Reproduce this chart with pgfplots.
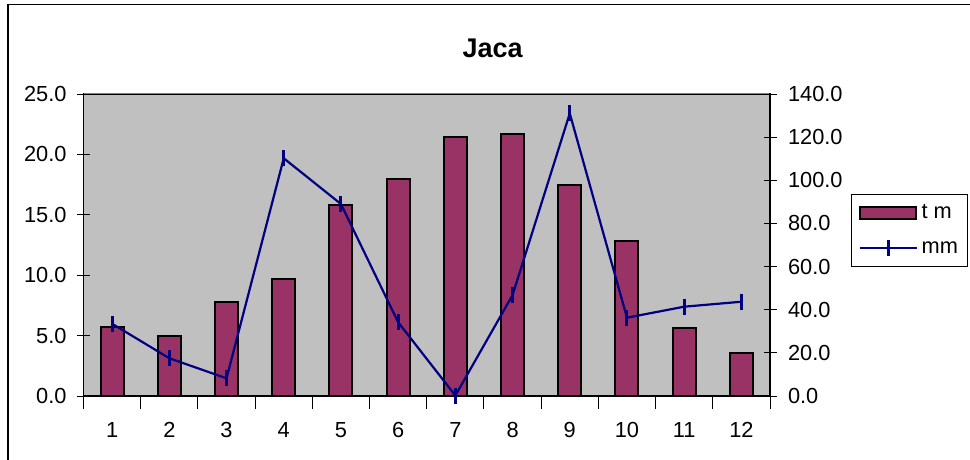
\documentclass[border=0pt]{standalone}
\usepackage{pgfplots}
\pgfplotsset{compat=1.18}
\usepackage{fontspec}
\setmainfont{Liberation Sans}
\definecolor{barc}{HTML}{993366}
\definecolor{navyc}{HTML}{000080}
\definecolor{bgc}{HTML}{C0C0C0}
\pgfplotstableread{
x tm
1 5.7
2 4.95
3 7.8
4 9.7
5 15.8
6 18.0
7 21.4
8 21.7
9 17.45
10 12.85
11 5.6
12 3.6
}\tmdata
\pgfplotstableread{
x mm
1 33.5
2 17.5
3 8.2
4 110.2
5 89.0
6 34.2
7 0.2
8 46.8
9 131.0
10 36.3
11 41.4
12 43.7
}\mmdata
\begin{document}
\begin{tikzpicture}
\useasboundingbox (0pt,0pt) rectangle (970pt,459pt);
\draw[line width=1.2pt] (8pt,-2pt) -- (8pt,454.5pt) -- (972pt,454.5pt);
\node[font=\fontsize{27}{32}\selectfont\bfseries, anchor=base, inner sep=0pt] at (492.7pt,401.3pt) {Jaca};
\pgfplotsset{every axis/.append style={
  scale only axis, width=686.5pt, height=302pt, xmin=0.5, xmax=12.5,
  tick align=center, major tick length=13pt,
  tick style={black, line width=1pt},
  ticklabel style={font=\fontsize{21.8}{26}\selectfont},
  /pgf/number format/assume math mode=true,
  axis line style={line width=1.2pt, black}
}}
\begin{axis}[at={(83.5pt,63pt)}, anchor=south west,
  axis background/.style={fill=bgc},
  ymin=0, ymax=25, ytick={0,5,...,25},
  ytick pos=left,
  yticklabel style={/pgf/number format/.cd, fixed, fixed zerofill, precision=1, /tikz/.cd, xshift=-7pt},
  xtick={0.5,1.5,...,12.5}, x tick label as interval,
  xticklabels={1,2,3,4,5,6,7,8,9,10,11,12},
  xticklabel style={yshift=-10pt},
  xtick pos=left,
  ybar, bar width=23pt, bar shift=0pt]
\addplot[fill=barc, draw=black, line width=2pt] table[x=x,y=tm] {\tmdata};
\end{axis}
\begin{axis}[at={(83.5pt,63pt)}, anchor=south west,
  hide x axis,
  ymin=0, ymax=140, ytick={0,20,...,140},
  ytick pos=right, yticklabel pos=right,
  yticklabel style={/pgf/number format/.cd, fixed, fixed zerofill, precision=1, /tikz/.cd, xshift=8pt},
  clip=false,
  legend style={at={(1.118,0.669)}, anchor=north west, draw=black, line width=0.8pt,
    fill=white, inner xsep=7pt, inner ysep=8.5pt,
    font=\fontsize{21.8}{26}\selectfont, cells={anchor=west}, row sep=16pt,
    /tikz/every odd column/.append style={column sep=2pt}}]
\addlegendimage{legend image code/.code={\draw[fill=barc,draw=black,line width=2pt] (0pt,-6pt) rectangle (56pt,6pt);}}
\addlegendentry{t m}
\addplot[navyc, line width=2.2pt, mark=|, mark size=8pt, mark options={line width=3pt},
  legend image code/.code={\draw[navyc,line width=2.2pt] (0pt,0pt)--(57pt,0pt); \draw[navyc,line width=3pt] (28.5pt,-8pt)--(28.5pt,8pt);}]
  table[x=x,y=mm] {\mmdata};
\addlegendentry{mm}
\end{axis}
\draw[color=gray, line width=1pt] (84.2pt,365pt) -- (769.3pt,365pt);
\end{tikzpicture}
\end{document}
